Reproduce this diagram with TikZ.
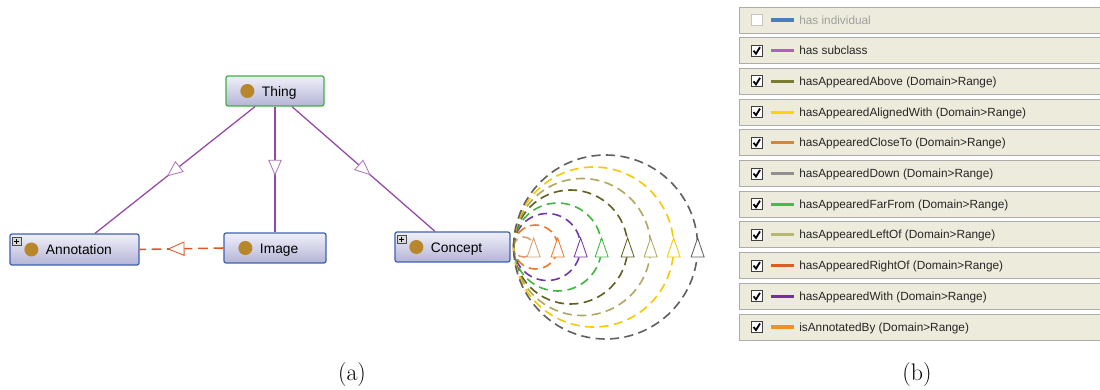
\documentclass[tikz,border=0pt]{standalone}
\usepackage{fontspec}
\newfontfamily\arialf{Liberation Sans}
\usetikzlibrary{arrows.meta,decorations.markings,calc}
\definecolor{boxblue}{RGB}{64,96,176}
\definecolor{boxgreen}{RGB}{60,180,60}
\definecolor{boxtop}{RGB}{240,240,250}
\definecolor{boxmid}{RGB}{214,214,236}
\definecolor{boxbot}{RGB}{180,180,214}
\definecolor{dotbrown}{RGB}{184,134,43}
\definecolor{subpurple}{RGB}{146,72,164}
\definecolor{annred}{RGB}{222,86,36}
\definecolor{legbg}{RGB}{237,235,220}
\definecolor{cTan}{RGB}{214,160,110}
\definecolor{cOrange}{RGB}{240,120,40}
\definecolor{cPurple}{RGB}{112,56,168}
\definecolor{cGreen}{RGB}{64,184,64}
\definecolor{cOlive}{RGB}{96,96,32}
\definecolor{cKhaki}{RGB}{176,168,96}
\definecolor{cYellow}{RGB}{248,200,0}
\definecolor{cGray}{RGB}{96,96,96}
\definecolor{lBlue}{RGB}{74,128,192}
\definecolor{lMagenta}{RGB}{176,96,192}
\definecolor{lOlive}{RGB}{122,122,48}
\definecolor{lYellow}{RGB}{245,216,0}
\definecolor{lTan}{RGB}{208,136,64}
\definecolor{lGray}{RGB}{144,144,144}
\definecolor{lGreen}{RGB}{64,192,64}
\definecolor{lKhaki}{RGB}{184,184,112}
\definecolor{lRed}{RGB}{216,96,32}
\definecolor{lPurple}{RGB}{112,48,160}
\definecolor{lOrange}{RGB}{245,144,32}
\begin{document}
\begin{tikzpicture}[x=0.025cm,y=-0.025cm,
    cls/.style={draw=boxblue,line width=0.9pt,rounded corners=1.5pt,top color=boxtop,middle color=boxmid,bottom color=boxbot,
      inner xsep=0pt,inner ysep=0pt,align=left,text height=0.72em,text depth=0em,
      font=\arialf\fontsize{9.8}{11}\selectfont},
    subof/.style={subpurple,line width=0.9pt,postaction={decorate},
      decoration={markings,mark=at position 0.55 with {\arrow{Triangle[length=0.4cm,width=0.34cm,fill=white,color=subpurple!75,line width=0.6pt]}}}},
    isann/.style={annred,line width=1.1pt,dash pattern=on 7pt off 4pt,postaction={decorate},
      decoration={markings,mark=at position 0.67 with {\arrow{Triangle[length=0.43cm,width=0.36cm,fill=white,color=annred,line width=0.6pt]}}}},
    relarc/.style={line width=1.15pt,dash pattern=on 6.5pt off 3.8pt},
    legrow/.style={fill=legbg,draw=gray!65,line width=0.6pt},
    chkbox/.style={fill=white,draw=black!75,line width=0.6pt},
    legtxt/.style={anchor=base west,inner sep=0pt,text=black!85,font=\arialf\fontsize{8.4}{10}\selectfont}]
  \useasboundingbox (0,0) rectangle (1100,389);
  \node[cls,draw=boxgreen,text width=2.45cm,minimum height=0.75cm] (thing) at (275,91) {\hspace*{0.9cm}Thing};
  \node[cls,text width=3.225cm,minimum height=0.775cm] (ann) at (74.5,249.5) {\hspace*{0.9cm}Annotation};
  \node[cls,text width=2.55cm,minimum height=0.75cm] (img) at (275,248) {\hspace*{0.9cm}Image};
  \node[cls,text width=2.875cm,minimum height=0.75cm] (con) at (452.5,247) {\hspace*{0.9cm}Concept};
  \foreach \n in {thing,ann,img,con}
    \fill[dotbrown] ([xshift=0.55cm]\n.west) circle (0.175cm);
  \foreach \n in {ann,con}{
    \draw[fill=gray!30,draw=gray!60!black,line width=0.4pt] ([shift={(3,4)}]\n.north west) rectangle ([shift={(12,12)}]\n.north west);
    \draw[line width=0.8pt] ([shift={(5,8)}]\n.north west) -- ([shift={(10,8)}]\n.north west)
      ([shift={(7.5,5.5)}]\n.north west) -- ([shift={(7.5,10.5)}]\n.north west);
  }
  \draw[subof] ([xshift=-0.5cm]thing.south) -- ([xshift=0.5125cm]ann.north);
  \draw[subof] (thing.south) -- (img.north);
  \draw[subof] ([xshift=0.425cm]thing.south) -- ([xshift=-0.4375cm]con.north);
  \draw[isann] (img.west) -- (ann.east);
  \coordinate (loop) at ([xshift=0.075cm]con.east);
  \foreach \r/\c in {10/cTan,22/cOrange,33.5/cPurple,44/cGreen,57/cOlive,68.5/cKhaki,80/cYellow,92/cGray}{
    \draw[relarc,\c] (loop) arc[start angle=180,end angle=-180,radius=\r*0.025cm];
    \draw[\c,line width=0.6pt,fill=white] ($(loop)+(2*\r,0)$) ++(-6.5,10) -- ++(13,0) -- ++(-6.5,-19) -- cycle;
  }
  \draw[legrow] (739,7) rectangle (1104,33);
  \draw[chkbox,draw=gray!45] (751,14.5) rectangle (762,25.5);
  \draw[lBlue,line width=2.2pt] (771,20) -- (794,20);
  \node[legtxt,text=gray!75] (leg0) at (799,24) {has individual};
  \foreach \t/\c [count=\i] in {has subclass/lMagenta,hasAppearedAbove (Domain>Range)/lOlive,
      hasAppearedAlignedWith (Domain>Range)/lYellow,hasAppearedCloseTo (Domain>Range)/lTan,
      hasAppearedDown (Domain>Range)/lGray,hasAppearedFarFrom (Domain>Range)/lGreen,
      hasAppearedLeftOf (Domain>Range)/lKhaki,hasAppearedRightOf (Domain>Range)/lRed,
      hasAppearedWith (Domain>Range)/lPurple,isAnnotatedBy (Domain>Range)/lOrange}{
    \pgfmathsetmacro\yy{20+30.7*\i}
    \draw[legrow] (739,\yy-13) rectangle (1104,\yy+13);
    \draw[chkbox] (751,\yy-5.5) rectangle (762,\yy+5.5);
    \draw[line width=1.3pt] (753.5,\yy) -- (756,\yy+3) -- (760,\yy-3.5);
    \draw[\c,line width=2.2pt] (771,\yy) -- (794,\yy);
    \node[legtxt] (leg\i) at (799,\yy+4) {\t};
  }
  \node[font=\fontsize{17}{20}\selectfont] (capa) at (352,375) {(a)};
  \node[font=\fontsize{17}{20}\selectfont] (capb) at (917,375) {(b)};
\end{tikzpicture}
\end{document}
